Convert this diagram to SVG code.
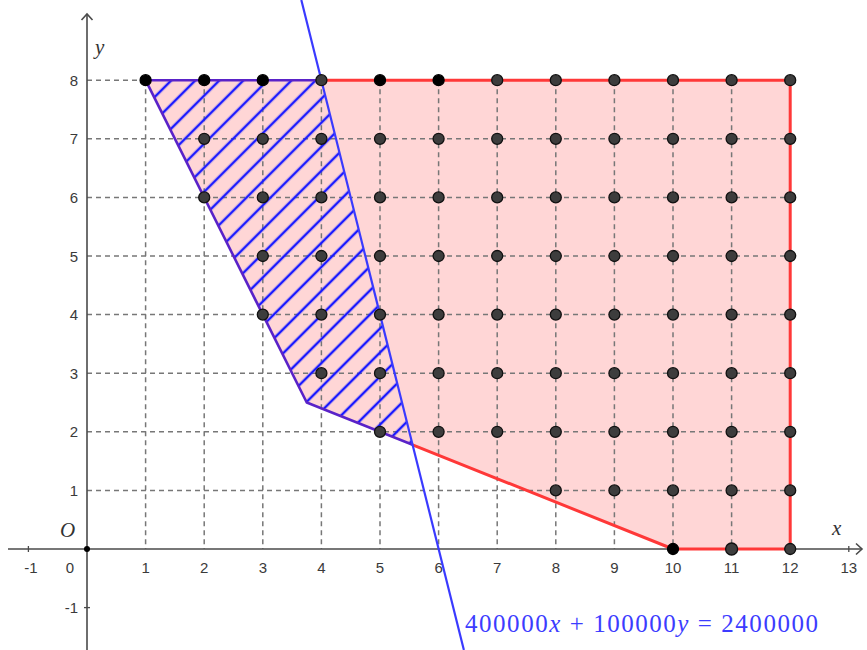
<svg xmlns="http://www.w3.org/2000/svg" width="867" height="650" viewBox="0 0 867 650">
<style>
.grid{stroke:#777;stroke-width:1.5;stroke-dasharray:5,4;fill:none}
.axis{stroke:#4a4a4a;stroke-width:1.6;fill:none}
.tick{stroke:#4a4a4a;stroke-width:1.3}
.tl{font-family:"Liberation Sans",Arial,sans-serif;font-size:15px;fill:#3a3a3a}
.tlx{text-anchor:middle}
.tly{text-anchor:end}
.ax{font-family:"Liberation Serif",serif;font-style:italic;font-size:21px;fill:#333}
.pt{fill:#3d3d3d;stroke:#111;stroke-width:1.3}
.ptb{fill:#000;stroke:#000;stroke-width:1.3}
</style>
<defs>
<pattern id="hatch" patternUnits="userSpaceOnUse" width="17" height="17" patternTransform="rotate(-45)">
<line x1="0" y1="8" x2="17" y2="8" stroke="#1a1aff" stroke-width="2.5"/>
</pattern>
</defs>
<rect width="867" height="650" fill="#fff"/>
<g id="region">
<polygon points="145.6,80.2 790.2,80.2 790.2,549 673,549 306.75,402.5" fill="#ffd6d6"/>
</g>
<g id="grid">
<line class="grid" x1="145.6" y1="80.2" x2="145.6" y2="549"/>
<line class="grid" x1="204.2" y1="80.2" x2="204.2" y2="549"/>
<line class="grid" x1="262.8" y1="80.2" x2="262.8" y2="549"/>
<line class="grid" x1="321.4" y1="80.2" x2="321.4" y2="549"/>
<line class="grid" x1="380" y1="80.2" x2="380" y2="549"/>
<line class="grid" x1="438.6" y1="80.2" x2="438.6" y2="549"/>
<line class="grid" x1="497.2" y1="80.2" x2="497.2" y2="549"/>
<line class="grid" x1="555.8" y1="80.2" x2="555.8" y2="549"/>
<line class="grid" x1="614.4" y1="80.2" x2="614.4" y2="549"/>
<line class="grid" x1="673" y1="80.2" x2="673" y2="549"/>
<line class="grid" x1="731.6" y1="80.2" x2="731.6" y2="549"/>
<line class="grid" x1="87" y1="80.2" x2="790.2" y2="80.2"/>
<line class="grid" x1="87" y1="138.8" x2="790.2" y2="138.8"/>
<line class="grid" x1="87" y1="197.4" x2="790.2" y2="197.4"/>
<line class="grid" x1="87" y1="256" x2="790.2" y2="256"/>
<line class="grid" x1="87" y1="314.6" x2="790.2" y2="314.6"/>
<line class="grid" x1="87" y1="373.2" x2="790.2" y2="373.2"/>
<line class="grid" x1="87" y1="431.8" x2="790.2" y2="431.8"/>
<line class="grid" x1="87" y1="490.4" x2="790.2" y2="490.4"/>
</g>
<g id="hatched">
<polygon points="145.6,80.2 321.4,80.2 412.6,444.8 306.75,402.5" fill="url(#hatch)"/>
</g>
<g id="axes">
<line class="axis" x1="8" y1="549" x2="862" y2="549"/>
<polyline class="axis" points="856,543.5 862,549 856,554.5"/>
<line class="axis" x1="87" y1="650" x2="87" y2="14"/>
<polyline class="axis" points="81.5,20 87,14 92.5,20"/>
<line class="tick" x1="28.4" y1="546" x2="28.4" y2="552"/>
<line class="tick" x1="848.8" y1="546" x2="848.8" y2="552"/>
<line class="tick" x1="84" y1="607.6" x2="90" y2="607.6"/>
</g>
<g id="boundary">
<polyline points="321.4,80.2 790.2,80.2 790.2,549 673,549 412.6,444.8" fill="none" stroke="#ff3838" stroke-width="3" stroke-linejoin="round"/>
<polyline points="412.6,444.8 306.75,402.5 145.6,80.2 321.4,80.2" fill="none" stroke="#5a22c8" stroke-width="2.6" stroke-linejoin="round"/>
</g>
<g id="connectors">
<line id="objective-line" x1="301.3" y1="0" x2="463.9" y2="650" stroke="#3a3aff" stroke-width="2.2"/>
</g>
<g id="labels">
<text class="tl tlx" x="31" y="573">-1</text>
<text class="tl tlx" x="70" y="573">0</text>
<text class="tl tlx" x="145.6" y="573">1</text>
<text class="tl tlx" x="204.2" y="573">2</text>
<text class="tl tlx" x="262.8" y="573">3</text>
<text class="tl tlx" x="321.4" y="573">4</text>
<text class="tl tlx" x="380" y="573">5</text>
<text class="tl tlx" x="438.6" y="573">6</text>
<text class="tl tlx" x="497.2" y="573">7</text>
<text class="tl tlx" x="555.8" y="573">8</text>
<text class="tl tlx" x="614.4" y="573">9</text>
<text class="tl tlx" x="673" y="573">10</text>
<text class="tl tlx" x="731.6" y="573">11</text>
<text class="tl tlx" x="790.2" y="573">12</text>
<text class="tl tlx" x="848.8" y="573">13</text>
<text class="tl tly" x="78" y="85.7">8</text>
<text class="tl tly" x="78" y="144.3">7</text>
<text class="tl tly" x="78" y="202.9">6</text>
<text class="tl tly" x="78" y="261.5">5</text>
<text class="tl tly" x="78" y="320.1">4</text>
<text class="tl tly" x="78" y="378.7">3</text>
<text class="tl tly" x="78" y="437.3">2</text>
<text class="tl tly" x="78" y="495.9">1</text>
<text class="tl tly" x="78" y="613">-1</text>
<text class="ax" x="60" y="537">O</text>
<text class="ax" x="832" y="535">x</text>
<text class="ax" x="95" y="54">y</text>
<text x="465" y="632" font-family="Liberation Serif, serif" font-size="25" fill="#3c3cff" textLength="353" lengthAdjust="spacing">400000<tspan font-style="italic">x</tspan> + 100000<tspan font-style="italic">y</tspan> = 2400000</text>
</g>
<g id="points">
<circle cx="87" cy="549" r="3" fill="#000"/>
<circle class="ptb" cx="145.6" cy="80.2" r="5.5"/>
<circle class="ptb" cx="204.2" cy="80.2" r="5.5"/>
<circle class="ptb" cx="262.8" cy="80.2" r="5.5"/>
<circle class="pt" cx="321.4" cy="80.2" r="5.5"/>
<circle class="ptb" cx="380" cy="80.2" r="5.5"/>
<circle class="ptb" cx="438.6" cy="80.2" r="5.5"/>
<circle class="pt" cx="497.2" cy="80.2" r="5.5"/>
<circle class="pt" cx="555.8" cy="80.2" r="5.5"/>
<circle class="pt" cx="614.4" cy="80.2" r="5.5"/>
<circle class="pt" cx="673" cy="80.2" r="5.5"/>
<circle class="pt" cx="731.6" cy="80.2" r="5.5"/>
<circle class="pt" cx="790.2" cy="80.2" r="5.5"/>
<circle class="pt" cx="204.2" cy="138.8" r="5.5"/>
<circle class="pt" cx="262.8" cy="138.8" r="5.5"/>
<circle class="pt" cx="321.4" cy="138.8" r="5.5"/>
<circle class="pt" cx="380" cy="138.8" r="5.5"/>
<circle class="pt" cx="438.6" cy="138.8" r="5.5"/>
<circle class="pt" cx="497.2" cy="138.8" r="5.5"/>
<circle class="pt" cx="555.8" cy="138.8" r="5.5"/>
<circle class="pt" cx="614.4" cy="138.8" r="5.5"/>
<circle class="pt" cx="673" cy="138.8" r="5.5"/>
<circle class="pt" cx="731.6" cy="138.8" r="5.5"/>
<circle class="pt" cx="790.2" cy="138.8" r="5.5"/>
<circle class="pt" cx="204.2" cy="197.4" r="5.5"/>
<circle class="pt" cx="262.8" cy="197.4" r="5.5"/>
<circle class="pt" cx="321.4" cy="197.4" r="5.5"/>
<circle class="pt" cx="380" cy="197.4" r="5.5"/>
<circle class="pt" cx="438.6" cy="197.4" r="5.5"/>
<circle class="pt" cx="497.2" cy="197.4" r="5.5"/>
<circle class="pt" cx="555.8" cy="197.4" r="5.5"/>
<circle class="pt" cx="614.4" cy="197.4" r="5.5"/>
<circle class="pt" cx="673" cy="197.4" r="5.5"/>
<circle class="pt" cx="731.6" cy="197.4" r="5.5"/>
<circle class="pt" cx="790.2" cy="197.4" r="5.5"/>
<circle class="pt" cx="262.8" cy="256" r="5.5"/>
<circle class="pt" cx="321.4" cy="256" r="5.5"/>
<circle class="pt" cx="380" cy="256" r="5.5"/>
<circle class="pt" cx="438.6" cy="256" r="5.5"/>
<circle class="pt" cx="497.2" cy="256" r="5.5"/>
<circle class="pt" cx="555.8" cy="256" r="5.5"/>
<circle class="pt" cx="614.4" cy="256" r="5.5"/>
<circle class="pt" cx="673" cy="256" r="5.5"/>
<circle class="pt" cx="731.6" cy="256" r="5.5"/>
<circle class="pt" cx="790.2" cy="256" r="5.5"/>
<circle class="pt" cx="262.8" cy="314.6" r="5.5"/>
<circle class="pt" cx="321.4" cy="314.6" r="5.5"/>
<circle class="pt" cx="380" cy="314.6" r="5.5"/>
<circle class="pt" cx="438.6" cy="314.6" r="5.5"/>
<circle class="pt" cx="497.2" cy="314.6" r="5.5"/>
<circle class="pt" cx="555.8" cy="314.6" r="5.5"/>
<circle class="pt" cx="614.4" cy="314.6" r="5.5"/>
<circle class="pt" cx="673" cy="314.6" r="5.5"/>
<circle class="pt" cx="731.6" cy="314.6" r="5.5"/>
<circle class="pt" cx="790.2" cy="314.6" r="5.5"/>
<circle class="pt" cx="321.4" cy="373.2" r="5.5"/>
<circle class="pt" cx="380" cy="373.2" r="5.5"/>
<circle class="pt" cx="438.6" cy="373.2" r="5.5"/>
<circle class="pt" cx="497.2" cy="373.2" r="5.5"/>
<circle class="pt" cx="555.8" cy="373.2" r="5.5"/>
<circle class="pt" cx="614.4" cy="373.2" r="5.5"/>
<circle class="pt" cx="673" cy="373.2" r="5.5"/>
<circle class="pt" cx="731.6" cy="373.2" r="5.5"/>
<circle class="pt" cx="790.2" cy="373.2" r="5.5"/>
<circle class="pt" cx="380" cy="431.8" r="5.5"/>
<circle class="pt" cx="438.6" cy="431.8" r="5.5"/>
<circle class="pt" cx="497.2" cy="431.8" r="5.5"/>
<circle class="pt" cx="555.8" cy="431.8" r="5.5"/>
<circle class="pt" cx="614.4" cy="431.8" r="5.5"/>
<circle class="pt" cx="673" cy="431.8" r="5.5"/>
<circle class="pt" cx="731.6" cy="431.8" r="5.5"/>
<circle class="pt" cx="790.2" cy="431.8" r="5.5"/>
<circle class="pt" cx="555.8" cy="490.4" r="5.5"/>
<circle class="pt" cx="614.4" cy="490.4" r="5.5"/>
<circle class="pt" cx="673" cy="490.4" r="5.5"/>
<circle class="pt" cx="731.6" cy="490.4" r="5.5"/>
<circle class="pt" cx="790.2" cy="490.4" r="5.5"/>
<circle class="ptb" cx="673" cy="549" r="5.5"/>
<circle class="pt" cx="731.6" cy="549" r="6"/>
<circle class="pt" cx="790.2" cy="549" r="5.5"/>
</g>
</svg>
